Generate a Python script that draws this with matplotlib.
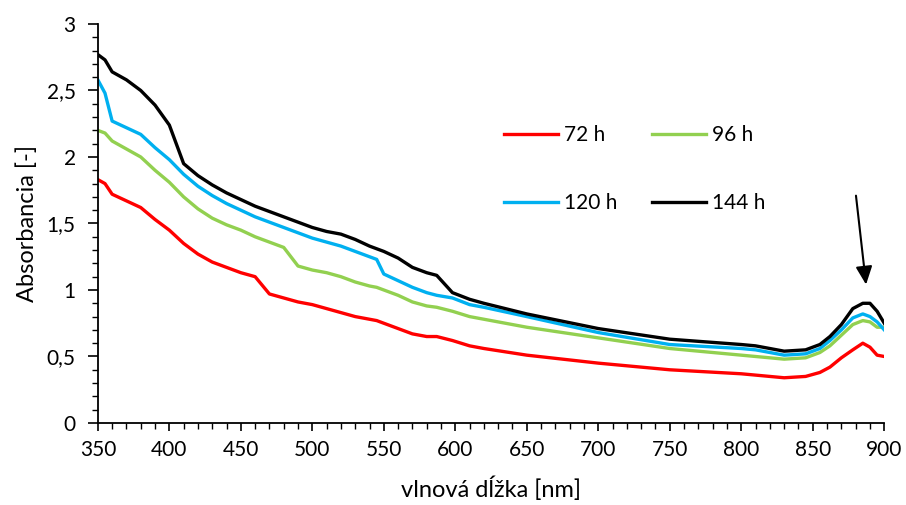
import numpy as np
import matplotlib.pyplot as plt
from matplotlib.ticker import MultipleLocator, FuncFormatter

plt.rcParams['font.family'] = ['Lato', 'DejaVu Sans']

# wavelengths [nm]
wl = [350, 355, 360, 370, 380, 390, 400, 410, 420, 430, 440, 450, 460, 470,
      480, 490, 500, 510, 520, 530, 540, 545, 550, 560, 570, 580, 587, 598,
      610, 620, 650, 700, 750, 800, 810, 830, 845, 855, 862, 870, 878, 885,
      890, 895, 900]

a72 = [1.83, 1.80, 1.72, 1.67, 1.62, 1.53, 1.45, 1.35, 1.27, 1.21, 1.17, 1.13,
       1.10, 0.97, 0.94, 0.91, 0.89, 0.86, 0.83, 0.80, 0.78, 0.77, 0.75, 0.71,
       0.67, 0.65, 0.65, 0.62, 0.58, 0.56, 0.51, 0.45, 0.40, 0.37, 0.36, 0.34,
       0.35, 0.38, 0.42, 0.49, 0.55, 0.60, 0.57, 0.51, 0.50]
a96 = [2.20, 2.18, 2.12, 2.06, 2.00, 1.90, 1.81, 1.70, 1.61, 1.54, 1.49, 1.45,
       1.40, 1.36, 1.32, 1.18, 1.15, 1.13, 1.10, 1.06, 1.03, 1.02, 1.00, 0.96,
       0.91, 0.88, 0.87, 0.84, 0.80, 0.78, 0.72, 0.64, 0.56, 0.51, 0.50, 0.48,
       0.49, 0.53, 0.58, 0.66, 0.74, 0.77, 0.76, 0.72, 0.72]
a120 = [2.58, 2.48, 2.27, 2.22, 2.17, 2.07, 1.98, 1.87, 1.78, 1.71, 1.65, 1.60,
        1.55, 1.51, 1.47, 1.43, 1.39, 1.36, 1.33, 1.29, 1.25, 1.23, 1.12, 1.07,
        1.02, 0.98, 0.96, 0.94, 0.89, 0.87, 0.80, 0.68, 0.59, 0.56, 0.55, 0.51,
        0.52, 0.56, 0.62, 0.70, 0.79, 0.82, 0.80, 0.76, 0.70]
a144 = [2.77, 2.73, 2.64, 2.58, 2.50, 2.39, 2.24, 1.95, 1.86, 1.79, 1.73, 1.68,
        1.63, 1.59, 1.55, 1.51, 1.47, 1.44, 1.42, 1.38, 1.33, 1.31, 1.29, 1.24,
        1.17, 1.13, 1.11, 0.98, 0.93, 0.90, 0.82, 0.71, 0.63, 0.59, 0.58, 0.54,
        0.55, 0.59, 0.65, 0.74, 0.86, 0.90, 0.90, 0.84, 0.75]

labels = ['72 h', '96 h', '120 h', '144 h']
colors = ['#ff0000', '#92d050', '#00b0f0', '#000000']

fig = plt.figure(figsize=(9.06, 5.05), dpi=100)
ax = fig.add_axes([0.108, 0.1624, 0.868, 0.7901])

lines = []
for y, lab, c in zip([a72, a96, a120, a144], labels, colors):
    ln, = ax.plot(wl, y, color=c, lw=2.4, label=lab, solid_joinstyle='round')
    lines.append(ln)

ax.set_xlim(350, 900)
ax.set_ylim(0, 3)
ax.xaxis.set_major_locator(MultipleLocator(50))
ax.xaxis.set_minor_locator(MultipleLocator(10))
ax.yaxis.set_major_locator(MultipleLocator(0.5))
ax.yaxis.set_minor_locator(MultipleLocator(0.1))
ax.yaxis.set_major_formatter(FuncFormatter(lambda v, p: ('%g' % v).replace('.', ',')))
ax.tick_params(which='major', length=7, width=1.2, labelsize=15, direction='out')
ax.tick_params(axis='y', which='major', pad=9)
ax.tick_params(axis='x', which='major', length=6, pad=6)
ax.tick_params(which='minor', length=4.5, width=1.0, direction='out')
for s in ['top', 'right']:
    ax.spines[s].set_visible(False)
for s in ['left', 'bottom']:
    ax.spines[s].set_linewidth(1.3)

ax.set_xlabel('vlnová dĺžka [nm]', fontsize=17, labelpad=12)
ax.set_ylabel('Absorbancia [-]', fontsize=17, labelpad=6)

# row-wise legend order: 72 h, 96 h / 120 h, 144 h
order = [0, 2, 1, 3]
ax.legend([lines[i] for i in order], [labels[i] for i in order],
          ncol=2, frameon=False, fontsize=15, loc='upper left',
          bbox_to_anchor=(0.492, 0.793), handlelength=2.6, handletextpad=0.3,
          labelspacing=2.3, columnspacing=1.65)

ax.annotate('', xy=(887.5, 1.02), xytext=(880, 1.73),
            arrowprops=dict(arrowstyle='-|>,head_length=1.1,head_width=0.5',
                            color='black', lw=1.5))

fig.savefig('out.png', dpi=100)
